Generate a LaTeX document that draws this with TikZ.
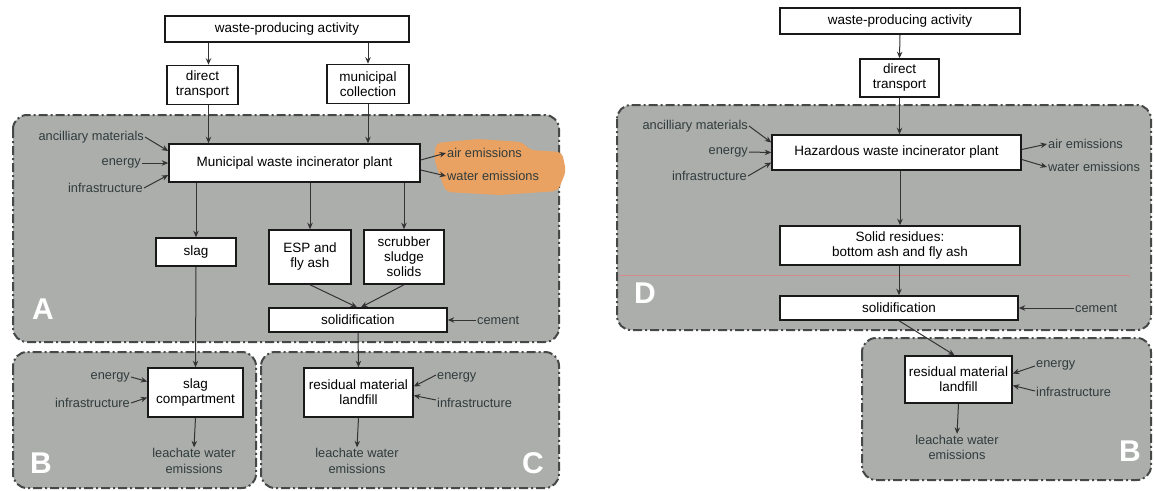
\documentclass[tikz,border=0pt]{standalone}
\usepackage{fontspec}
\setmainfont{Liberation Sans}
\usetikzlibrary{arrows.meta,positioning}

\definecolor{regiongray}{RGB}{172,174,172}
\definecolor{regionline}{RGB}{70,72,72}
\definecolor{labelgray}{RGB}{48,60,60}
\definecolor{hiorange}{RGB}{234,162,98}
\definecolor{scanred}{RGB}{215,140,140}

\tikzset{
  region/.style={fill=regiongray, draw=regionline, line width=2pt,
    dash pattern=on 9pt off 3pt on 2pt off 3pt, rounded corners=14pt},
  box/.style={draw=black!90, fill=white, line width=1.5pt, align=center,
    inner sep=1pt, font=\fontsize{13.5}{15}\selectfont},
  lbl/.style={text=labelgray, align=center, inner sep=1pt,
    font=\fontsize{12.8}{15.5}\selectfont},
  letter/.style={text=white, inner sep=0pt, font=\fontsize{30}{30}\selectfont\bfseries},
  flow/.style={-{Stealth[length=6.5pt,width=5.5pt]}, line width=1pt, draw=black!80},
}

\begin{document}
\begin{tikzpicture}[x=1pt,y=-1pt]
\useasboundingbox (0,0) rectangle (1154,490);

% regions, left panel
\draw[region] (13,115) rectangle (559,342);
\draw[region] (13,352) rectangle (256,488);
\draw[region] (261,352) rectangle (559,488);
% regions, right panel
\draw[region] (617,105) rectangle (1151,330);
\draw[region] (862,338) rectangle (1151,480);
\draw[scanred, line width=0.5pt] (619,275) -- (1130,275);

% orange marker
\fill[hiorange, rounded corners=5pt] (436,143) -- (478,139) -- (522,142) -- (530,150)
  -- (562,152) -- (566,171) -- (558,191) -- (500,195) -- (446,192) -- (438,171) -- (434,158) -- cycle;

% panel letters
\node[letter] (letA) at (43,309) {A};
\node[letter] (letB) at (41,463) {B};
\node[letter] (letC) at (533,463) {C};
\node[letter] (letD) at (645,293) {D};
\node[letter] (letBB) at (1130,451) {B};

% left panel: municipal waste
\node[box, minimum width=244, minimum height=26] (wpaA) at (287,29) {waste-producing activity};
\node[box, minimum width=71, minimum height=39] (dtA) at (202.5,85) {direct\\transport};
\node[box, minimum width=82, minimum height=39] (mcA) at (368,84) {municipal\\collection};
\node[box, minimum width=251, minimum height=38] (plantA) at (294.5,163) {Municipal waste incinerator plant};
\node[box, minimum width=80, minimum height=28] (slagA) at (196,252) {slag};
\node[box, minimum width=82, minimum height=54] (espA) at (310,257) {ESP and\\fly ash};
\node[box, minimum width=80, minimum height=54] (scrubA) at (404,257) {scrubber\\sludge\\solids};
\node[box, minimum width=178, minimum height=24] (solidA) at (358,320) {solidification};
\node[box, minimum width=95, minimum height=49] (compA) at (195.5,392.5) {slag\\compartment};
\node[box, minimum width=109, minimum height=49] (landA) at (358.5,392.5) {residual material\\landfill};

\node[lbl, anchor=east] (ancA) at (145,137) {ancilliary materials};
\node[lbl, anchor=east] (energyA) at (142,163) {energy};
\node[lbl, anchor=east] (infraA) at (144,188) {infrastructure};
\node[lbl, anchor=west] (airA) at (446,153) {air emissions};
\node[lbl, anchor=west] (waterA) at (446,176) {water emissions};
\node[lbl, anchor=west] (cementA) at (476,320) {cement};
\node[lbl, anchor=east] (energyB) at (131,377) {energy};
\node[lbl, anchor=east] (infraB) at (131,403) {infrastructure};
\node[lbl, anchor=west] (energyC) at (436,377) {energy};
\node[lbl, anchor=west] (infraC) at (436,403) {infrastructure};
\node[lbl] (leachB) at (194,461) {leachate water\\emissions};
\node[lbl] (leachC) at (357,461) {leachate water\\emissions};

\draw[flow] ([xshift=6pt]dtA.north |- wpaA.south) -- ([xshift=6pt]dtA.north);
\draw[flow] (mcA.north |- wpaA.south) -- (mcA.north);
\draw[flow] ([xshift=6pt]dtA.south) -- ([xshift=6pt]dtA.south |- plantA.north);
\draw[flow] (mcA.south) -- (mcA.south |- plantA.north);
\draw[flow] (ancA.east) -- ([yshift=12pt]plantA.west);
\draw[flow] (energyA.east) -- (plantA.west);
\draw[flow] (infraA.east) -- ([yshift=-12pt]plantA.west);
\draw[flow] ([yshift=3pt]plantA.east) -- (airA.west);
\draw[flow] ([yshift=-7pt]plantA.east) -- (waterA.west);
\draw[flow] (slagA.north |- plantA.south) -- (slagA.north);
\draw[flow] (espA.north |- plantA.south) -- (espA.north);
\draw[flow] (scrubA.north |- plantA.south) -- (scrubA.north);
\draw[flow] (espA.south) -- ([xshift=-1pt]solidA.north);
\draw[flow] (scrubA.south) -- ([xshift=3pt]solidA.north);
\draw[flow] (cementA.west) -- (solidA.east);
\draw[flow] (slagA.south) -- (compA.north);
\draw[flow] (solidA.south) -- (landA.north);
\draw[flow] (energyB.east) -- ([yshift=11pt]compA.west);
\draw[flow] (infraB.east) -- ([yshift=-5pt]compA.west);
\draw[flow] ([yshift=2pt]energyC.west) -- ([yshift=6pt]landA.east);
\draw[flow] ([yshift=3pt]infraC.west) -- ([yshift=-3pt]landA.east);
\draw[flow] (compA.south) -- (leachB.north);
\draw[flow] (landA.south) -- (leachC.north);

% right panel: hazardous waste
\node[box, minimum width=240, minimum height=26] (wpaD) at (900,21) {waste-producing activity};
\node[box, minimum width=79, minimum height=38] (dtD) at (899.5,78) {direct\\transport};
\node[box, minimum width=249, minimum height=35] (plantD) at (896.5,152.5) {Hazardous waste incinerator plant};
\node[box, minimum width=240, minimum height=39] (resD) at (900,245.5) {Solid residues:\\bottom ash and fly ash};
\node[box, minimum width=238, minimum height=24] (solidD) at (899,308) {solidification};
\node[box, minimum width=107, minimum height=47] (landD) at (958.5,379.5) {residual material\\landfill};

\node[lbl, anchor=east] (ancD) at (749,126) {ancilliary materials};
\node[lbl, anchor=east] (energyD) at (749,152) {energy};
\node[lbl, anchor=east] (infraD) at (748,176) {infrastructure};
\node[lbl, anchor=west] (airD) at (1047,144) {air emissions};
\node[lbl, anchor=west] (waterD) at (1047,167) {water emissions};
\node[lbl, anchor=west] (cementD) at (1074,308) {cement};
\node[lbl, anchor=west] (energyBB) at (1035,365) {energy};
\node[lbl, anchor=west] (infraBB) at (1035,392) {infrastructure};
\node[lbl] (leachD) at (957,447.5) {leachate water\\emissions};

\draw[flow] (wpaD.south) -- (dtD.north);
\draw[flow] (dtD.south) -- (dtD.south |- plantD.north);
\draw[flow] (ancD.east) -- ([yshift=10pt]plantD.west);
\draw[flow] (energyD.east) -- (plantD.west);
\draw[flow] (infraD.east) -- ([yshift=-10pt]plantD.west);
\draw[flow] ([yshift=3pt]plantD.east) -- (airD.west);
\draw[flow] ([yshift=-7pt]plantD.east) -- (waterD.west);
\draw[flow] (plantD.south -| resD.north) -- (resD.north);
\draw[flow] (resD.south -| solidD.north) -- (solidD.north);
\draw[flow] (cementD.west) -- (solidD.east);
\draw[flow] (solidD.south) -- ([xshift=-4pt]landD.north);
\draw[flow] ([yshift=-1pt]energyBB.west) -- ([yshift=6pt]landD.east);
\draw[flow] ([yshift=1pt]infraBB.west) -- ([yshift=-6pt]landD.east);
\draw[flow] (landD.south) -- (leachD.north);
\end{tikzpicture}
\end{document}
